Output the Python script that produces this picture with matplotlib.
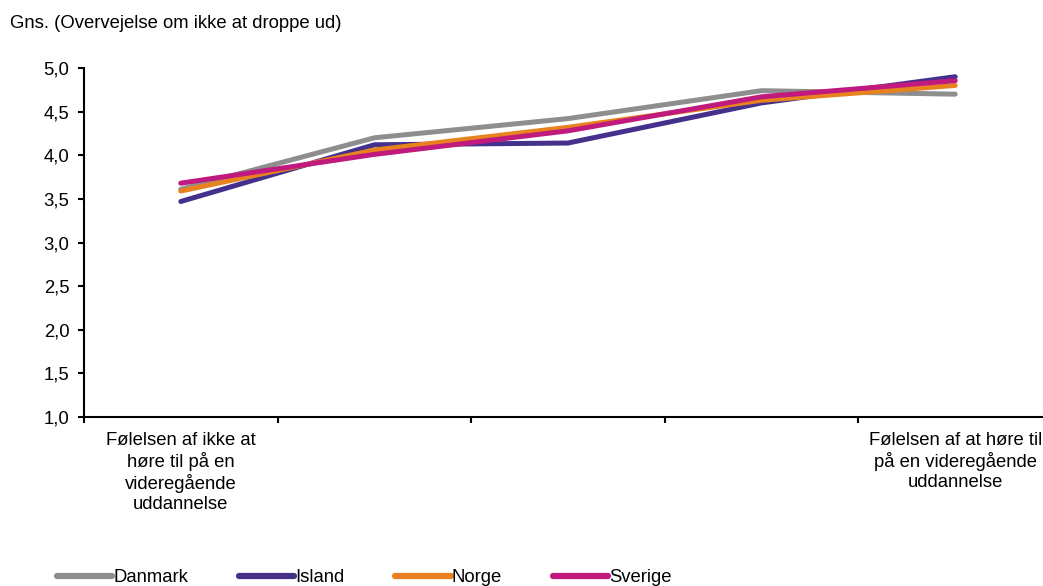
import matplotlib
matplotlib.use("Agg")
import matplotlib.pyplot as plt
from matplotlib.ticker import FixedLocator, FuncFormatter

plt.rcParams['font.family'] = ['Liberation Sans', 'DejaVu Sans']

categories = [
    "Følelsen af ikke at\nhøre til på en\nvideregående\nuddannelse",
    "", "", "",
    "Følelsen af at høre til\npå en videregående\nuddannelse",
]
danmark = [3.61, 4.20, 4.42, 4.74, 4.70]
island = [3.47, 4.12, 4.14, 4.60, 4.90]
norge = [3.59, 4.06, 4.32, 4.63, 4.80]
sverige = [3.68, 4.01, 4.28, 4.67, 4.855]

series = [
    ("Danmark", danmark, "#8e8e8e"),
    ("Island", island, "#45318c"),
    ("Norge", norge, "#e8821e"),
    ("Sverige", sverige, "#c01a7e"),
]

FS = 13.3
W, H = 1043, 586
fig = plt.figure(figsize=(W / 100, H / 100), dpi=100)
# axes spans 84..1052 px horizontally (right end cut by the figure), 68..417 px vertically
ax = fig.add_axes([84 / W, 1 - 417 / H, (1052 - 84) / W, (417 - 68) / H])

x = list(range(len(categories)))
for name, vals, col in series:
    ax.plot(x, vals, color=col, lw=3.6, solid_capstyle='round', label=name)

ax.set_xlim(-0.5, len(categories) - 0.5)
ax.set_ylim(1.0, 5.0)
ax.set_yticks([1.0 + 0.5 * i for i in range(9)])
ax.yaxis.set_major_formatter(FuncFormatter(lambda v, p: f"{v:.1f}".replace(".", ",")))

ax.xaxis.set_major_locator(FixedLocator([i + 0.5 for i in range(-1, len(categories))]))
ax.xaxis.set_major_formatter(FuncFormatter(lambda v, p: ""))
ax.xaxis.set_minor_locator(FixedLocator(x))
ax.set_xticklabels(categories, minor=True)
ax.tick_params(axis='x', which='minor', length=0, pad=11, labelsize=FS)
ax.tick_params(axis='x', which='major', length=4.5, width=1.5, direction='out')
ax.tick_params(axis='y', length=4.5, width=1.5, direction='out', labelsize=FS, pad=6)

for s in ['top', 'right']:
    ax.spines[s].set_visible(False)
for s in ['left', 'bottom']:
    ax.spines[s].set_linewidth(1.5)

fig.text(10 / W, 1 - 24 / H, "Gns. (Overvejelse om ikke at droppe ud)", fontsize=FS, va='center')

leg = fig.legend(loc='center left', bbox_to_anchor=(57 / W, 1 - 578 / H), ncol=4, frameon=False,
                 fontsize=FS, handlelength=3.0, handletextpad=0.05, columnspacing=2.75,
                 borderaxespad=0, borderpad=0)
for ln in leg.get_lines():
    ln.set_linewidth(4.5)

fig.savefig("out.png", dpi=100)
